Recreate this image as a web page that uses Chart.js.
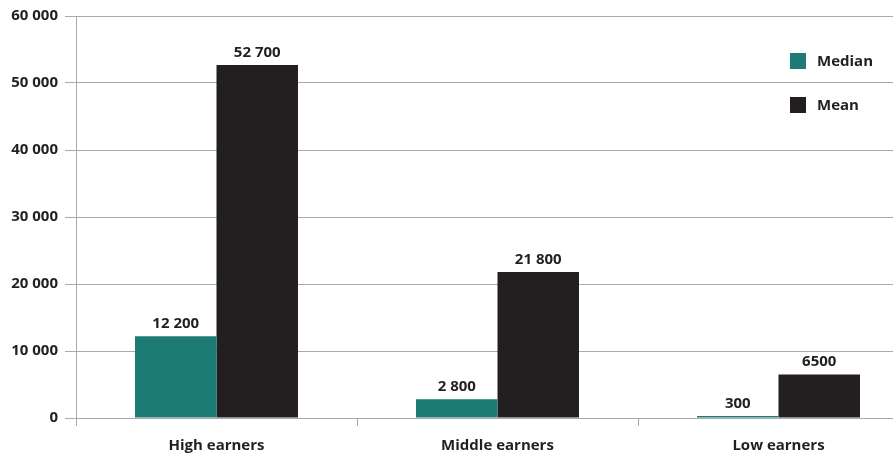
<!DOCTYPE html>
<html>
<head>
<meta charset="utf-8">
<script src="https://cdn.jsdelivr.net/npm/chart.js@4.4.1/dist/chart.umd.min.js"></script>
<style>
  html, body { margin: 0; padding: 0; background: #fff; }
  #frame { width: 893px; height: 458px; overflow: hidden; }
  #wrap { width: 920px; height: 458px; position: relative; }
</style>
</head>
<body>
<div id="frame">
  <div id="wrap"><canvas id="earnersChart"></canvas></div>
</div>
<script>
// categorias e valores
const categories = ['High earners', 'Middle earners', 'Low earners'];
const medianValues = [12200, 2800, 300];
const meanValues = [52700, 21800, 6500];
const medianLabels = ['12 200', '2 800', '300'];
const meanLabels = ['52 700', '21 800', '6500'];
const yMax = 60000;
const yStep = 10000;

const textColor = '#231f20';
const gridColor = '#a7a9ac';
const fontFamily = '"Open Sans", "Noto Sans", sans-serif';

// separador de milhar com espaço
const formatThousands = (v) => String(v).replace(/\B(?=(\d{3})+(?!\d))/g, ' ');

// rótulos de valor acima das barras
const valueLabels = {
    id: 'valueLabels',
    afterDatasetsDraw(chart) {
        const ctx = chart.ctx;
        ctx.save();
        ctx.font = `bold 15px ${fontFamily}`;
        ctx.fillStyle = textColor;
        ctx.textAlign = 'center';
        ctx.textBaseline = 'bottom';
        chart.data.datasets.forEach((ds, i) => {
            const meta = chart.getDatasetMeta(i);
            meta.data.forEach((bar, j) => {
                ctx.fillText(ds.valueText[j], bar.x, bar.y - 5);
            });
        });
        ctx.restore();
    }
};

// legenda desenhada dentro da área do gráfico
const insideLegend = {
    id: 'insideLegend',
    afterDraw(chart) {
        const ctx = chart.ctx;
        const x = chart.chartArea.right - 129;
        let y = 53;
        ctx.save();
        ctx.font = `bold 15px ${fontFamily}`;
        ctx.textAlign = 'left';
        ctx.textBaseline = 'middle';
        chart.data.datasets.forEach(ds => {
            ctx.fillStyle = ds.backgroundColor;
            ctx.fillRect(x, y, 16, 16);
            ctx.fillStyle = textColor;
            ctx.fillText(ds.label, x + 27, y + 9);
            y += 44;
        });
        ctx.restore();
    }
};

const ctx = document.getElementById('earnersChart').getContext('2d');

const earnersChart = new Chart(ctx, {
    type: 'bar',
    data: {
        labels: categories,
        datasets: [
            {
                label: 'Median',
                data: medianValues,
                valueText: medianLabels,
                backgroundColor: '#1c7b75',
                borderWidth: 0
            },
            {
                label: 'Mean',
                data: meanValues,
                valueText: meanLabels,
                backgroundColor: '#231f20',
                borderWidth: 0
            }
        ]
    },
    options: {
        responsive: true,
        maintainAspectRatio: false,
        animation: false,
        categoryPercentage: 0.58,
        barPercentage: 1.0,
        layout: {
            padding: { top: 16, right: 1, left: 0, bottom: 0 }
        },
        plugins: {
            legend: { display: false },
            tooltip: { enabled: false }
        },
        scales: {
            x: {
                grid: {
                    display: true,
                    drawOnChartArea: false,
                    tickLength: 8,
                    color: gridColor,
                    offset: true
                },
                border: { color: gridColor, width: 1 },
                ticks: {
                    color: textColor,
                    padding: 11,
                    font: { family: fontFamily, size: 15, weight: 'bold' }
                },
                afterFit(scale) { scale.height = 40; }
            },
            y: {
                min: 0,
                max: yMax,
                grid: {
                    color: gridColor,
                    tickLength: 11,
                    lineWidth: 1
                },
                border: { color: gridColor, width: 1 },
                ticks: {
                    stepSize: yStep,
                    color: textColor,
                    padding: 7,
                    font: { family: fontFamily, size: 15, weight: 'bold' },
                    callback: (v) => formatThousands(v)
                },
                afterFit(scale) { scale.width = 76; }
            }
        }
    },
    plugins: [valueLabels, insideLegend]
});
</script>
</body>
</html>
